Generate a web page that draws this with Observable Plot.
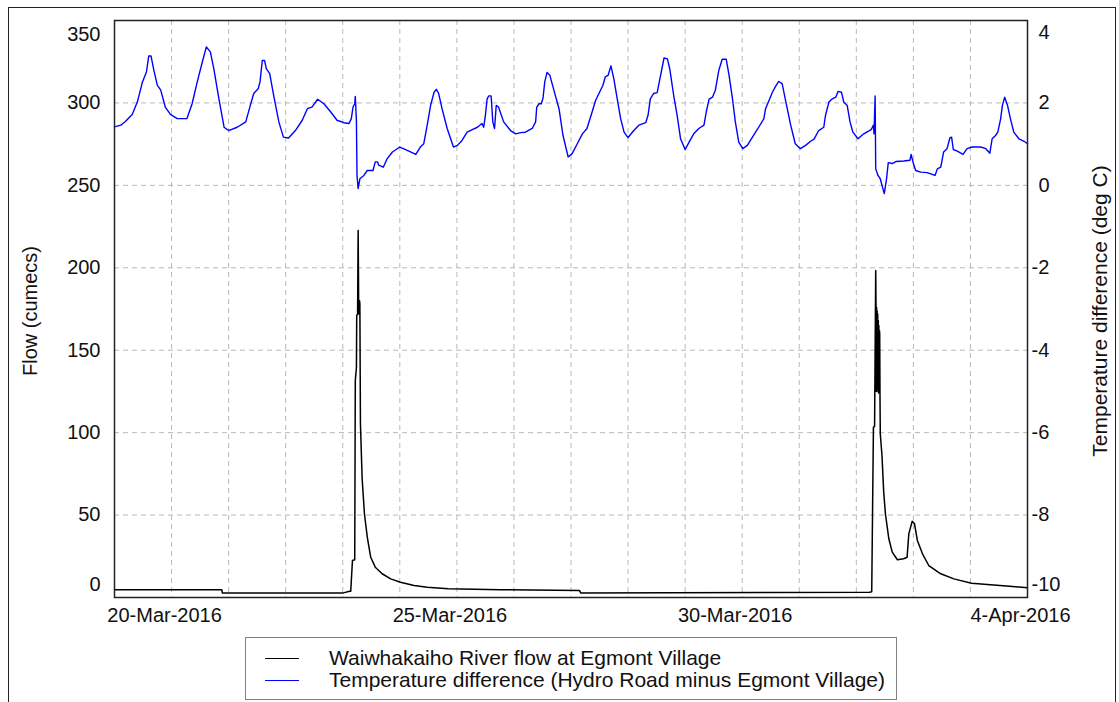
<!DOCTYPE html>
<html>
<head>
<meta charset="utf-8">
<script src="https://cdn.jsdelivr.net/npm/d3@7"></script>
<script src="https://cdn.jsdelivr.net/npm/@observablehq/plot@0.6"></script>
<style>
  html, body { margin: 0; padding: 0; background: #fff; }
  body { width: 1119px; height: 702px; position: relative; overflow: hidden;
         font-family: "Liberation Sans", Arial, sans-serif; color: #111; }
  #outer { position: absolute; left: 8px; top: 7px; width: 1108px; height: 740px;
           border: 1px solid #222; box-sizing: border-box; }
  #chart { position: absolute; left: 0; top: 0; }
  #legend { position: absolute; left: 245px; top: 637px; width: 652px; height: 63px;
            border: 1px solid #808080; box-sizing: border-box; background: #fff; }
  .row { position: absolute; left: 0; height: 22px; line-height: 22px; font-size: 21px; white-space: nowrap; }
  .swatch { position: absolute; left: 19px; top: 11px; width: 34px; height: 0; border-top-style: solid; border-top-width: 1.5px; }
  .lbl { position: absolute; left: 83px; top: 0; }
</style>
</head>
<body>
<div id="outer"></div>
<div id="chart"></div>
<div id="legend"></div>
<script>
// ---- Data (day numbers counted from 1-Mar-2016; 32 = 1-Apr) ----
const tempDay = [19.00,19.11,19.19,19.31,19.40,19.49,19.56,19.60,19.64,19.69,19.75,19.81,19.89,19.98,20.10,20.27,20.36,20.45,20.54,20.61,20.68,20.74,20.83,20.92,21.00,21.15,21.30,21.38,21.44,21.52,21.55,21.59,21.63,21.66,21.72,21.79,21.88,21.96,22.05,22.17,22.29,22.38,22.46,22.56,22.67,22.79,22.90,23.02,23.11,23.15,23.18,23.21,23.22,23.24,23.25,23.27,23.30,23.37,23.43,23.53,23.57,23.61,23.63,23.71,23.78,23.87,24.00,24.13,24.28,24.36,24.42,24.48,24.54,24.60,24.64,24.68,24.74,24.83,24.94,25.01,25.09,25.18,25.27,25.36,25.44,25.47,25.50,25.53,25.56,25.60,25.63,25.66,25.69,25.73,25.82,25.94,26.03,26.12,26.20,26.32,26.38,26.40,26.44,26.48,26.51,26.54,26.58,26.63,26.70,26.79,26.86,26.95,27.02,27.11,27.20,27.28,27.37,27.43,27.49,27.56,27.60,27.65,27.70,27.75,27.81,27.87,27.93,28.00,28.10,28.19,28.31,28.35,28.39,28.45,28.51,28.57,28.63,28.69,28.73,28.80,28.86,28.92,29.00,29.07,29.15,29.24,29.33,29.37,29.42,29.48,29.53,29.59,29.65,29.72,29.77,29.83,29.88,29.94,30.01,30.09,30.18,30.29,30.38,30.41,30.47,30.53,30.58,30.64,30.70,30.76,30.85,30.93,31.02,31.11,31.20,31.26,31.34,31.43,31.46,31.52,31.58,31.64,31.68,31.74,31.78,31.84,31.89,31.94,32.03,32.13,32.26,32.30,32.31,32.33,32.34,32.38,32.42,32.45,32.49,32.53,32.56,32.63,32.70,32.83,32.94,32.96,33.00,33.04,33.13,33.24,33.38,33.42,33.48,33.53,33.59,33.64,33.67,33.70,33.77,33.87,33.94,34.03,34.18,34.27,34.34,34.38,34.44,34.48,34.53,34.56,34.60,34.65,34.70,34.76,34.85,34.94,35.00];
const tempValue = [1.42,1.46,1.55,1.72,2.02,2.51,2.75,3.14,3.14,2.79,2.43,2.31,1.90,1.72,1.62,1.62,1.98,2.51,3.00,3.36,3.24,2.83,2.10,1.41,1.33,1.41,1.54,1.94,2.23,2.35,2.51,3.03,3.03,2.83,2.71,2.18,1.54,1.17,1.15,1.33,1.58,1.86,1.90,2.09,1.98,1.78,1.58,1.52,1.50,1.62,1.90,1.98,2.16,1.54,0.24,-0.08,0.16,0.24,0.36,0.36,0.57,0.57,0.49,0.44,0.65,0.81,0.93,0.85,0.75,0.93,1.01,1.46,1.94,2.26,2.33,2.23,1.86,1.38,0.93,0.97,1.09,1.29,1.35,1.41,1.50,1.41,1.70,2.10,2.17,2.17,1.54,1.38,1.94,1.90,1.54,1.33,1.25,1.28,1.29,1.38,1.54,1.90,1.98,1.98,2.12,2.51,2.74,2.67,2.31,1.86,1.21,0.69,0.77,1.01,1.25,1.38,1.78,2.06,2.23,2.43,2.63,2.67,2.90,2.59,2.10,1.62,1.29,1.16,1.33,1.46,1.52,1.70,2.10,2.23,2.25,2.67,3.09,3.07,2.83,2.18,1.70,1.13,0.87,1.05,1.25,1.38,1.46,1.78,2.09,2.14,2.31,2.79,3.06,3.06,2.67,2.10,1.54,1.05,0.89,0.97,1.17,1.41,1.62,1.86,2.06,2.26,2.39,2.52,2.47,2.06,1.46,1.01,0.89,0.97,1.07,1.12,1.33,1.41,1.70,2.02,2.10,2.14,2.28,2.26,2.02,1.94,1.54,1.29,1.13,1.25,1.35,1.46,1.25,2.17,0.40,0.24,0.16,0.00,-0.20,0.16,0.55,0.53,0.58,0.59,0.61,0.75,0.53,0.36,0.32,0.31,0.24,0.40,0.44,0.81,0.89,1.15,1.17,0.87,0.83,0.75,0.89,0.93,0.93,0.89,0.78,1.13,1.21,1.29,1.62,1.94,2.14,1.94,1.62,1.29,1.13,1.07,1.01];

const flowDay = [19.00,20.88,20.89,23.01,23.12,23.14,23.17,23.21,23.22,23.24,23.245,23.26,23.27,23.28,23.285,23.29,23.295,23.30,23.31,23.34,23.38,23.43,23.49,23.57,23.69,23.84,24.01,24.25,24.48,24.85,25.76,27.15,27.17,32.23,32.27,32.30,32.32,32.34,32.345,32.35,32.355,32.36,32.365,32.37,32.375,32.38,32.385,32.39,32.395,32.40,32.405,32.41,32.415,32.42,32.45,32.48,32.51,32.57,32.63,32.72,32.83,32.89,32.92,32.98,33.02,33.07,33.16,33.27,33.48,33.71,34.02,34.74,35.00];
const flowValue = [4.7,4.7,2.8,2.8,3.8,3.8,22.4,22.9,131.6,139.7,171,172,222.6,172,180,172,180,178,105.4,72,50.8,36.6,24.4,18.4,14.4,11.3,9.3,7.3,6.2,5.3,4.7,4.2,2.8,3.2,3.5,103.3,103.7,198.4,178,125,176,128,174,126,172,125,168,124,165,125,162,160,122.5,99.3,86.1,63.9,50.8,35.6,27.5,22.9,23.5,24.4,38.6,46.3,44.7,34.6,26.5,19.4,14.4,11.3,8.7,6.7,5.9];

const flowTicks = [0, 50, 100, 150, 200, 250, 300, 350];
const tempTicks = [-10, -8, -6, -4, -2, 0, 2, 4];
const dateTicks = ["2016-03-20", "2016-03-25", "2016-03-30", "2016-04-04"];
const monthNames = ["Jan","Feb","Mar","Apr","May","Jun","Jul","Aug","Sep","Oct","Nov","Dec"];
const seriesNames = ["Waiwhakaiho River flow at Egmont Village",
                     "Temperature difference (Hydro Road minus Egmont Village)"];
const seriesColors = ["#000000", "#0000ff"];
const axisTitles = ["Flow (cumecs)", "Temperature difference (deg C)"];
const xStart = "2016-03-19", xEnd = "2016-04-04";

// ---- Build ----
const base = Date.UTC(2016, 2, 1);
const toDate = d => new Date(base + (d - 1) * 864e5);
const tempToFlow = t => (t + 10) * 25; // right axis mapping: -10..4 -> 0..350

const flowData = flowDay.map((d, i) => ({date: toDate(d), v: flowValue[i]}));
const tempData = tempDay.map((d, i) => ({date: toDate(d), v: tempToFlow(tempValue[i])}));

const gridDays = d3.utcDay.range(new Date(xStart + "T00:00Z"), new Date(xEnd + "T00:00Z")).slice(1);
const fmtDate = d => `${d.getUTCDate()}-${monthNames[d.getUTCMonth()]}-${d.getUTCFullYear()}`;
const xTicks = dateTicks.map(s => new Date(s + "T00:00Z"));

const yMid = flowTicks.slice(1, -1);
const yTop = [flowTicks[flowTicks.length - 1]];
const yBot = [flowTicks[0]];
const tPos = tempTicks.filter(t => t >= 0 && t < 4).map(tempToFlow);
const tTop = tempTicks.filter(t => t === 4).map(tempToFlow);
const tNeg = tempTicks.filter(t => t < 0 && t > -10).map(tempToFlow);
const tBot = tempTicks.filter(t => t === -10).map(tempToFlow);
const tFmt = v => String(v / 25 - 10);

const axCommon = {tickSize: 0, label: null, fontSize: 20, fill: "#111"};
const gridStyle = {stroke: "#b8b8b8", strokeOpacity: 1, strokeDasharray: "5,4", strokeWidth: 1};

const chart = Plot.plot({
  width: 1119, height: 630,
  marginLeft: 114, marginRight: 92, marginTop: 20, marginBottom: 33,
  style: {fontFamily: '"Liberation Sans", Arial, sans-serif', fontSize: "20px", color: "#111", background: "transparent", overflow: "visible"},
  x: {type: "utc", domain: [new Date(xStart + "T00:00Z"), new Date(xEnd + "T00:00Z")], axis: null},
  y: {domain: [0, 350], axis: null},
  marks: [
    Plot.gridX(gridDays, gridStyle),
    Plot.gridY(yMid, gridStyle),
    Plot.line(flowData, {x: "date", y: "v", stroke: seriesColors[0], strokeWidth: 1.5}),
    Plot.line(tempData, {x: "date", y: "v", stroke: seriesColors[1], strokeWidth: 1.4}),
    Plot.frame({stroke: "#222", strokeWidth: 1.5}),
    Plot.axisX(xTicks, {...axCommon, anchor: "bottom", tickPadding: 10, dx: -7, tickFormat: fmtDate}),
    Plot.axisY(yMid, {...axCommon, anchor: "left", tickPadding: 14}),
    Plot.axisY(yTop, {...axCommon, anchor: "left", tickPadding: 14, dy: 14}),
    Plot.axisY(yBot, {...axCommon, anchor: "left", tickPadding: 14, dy: -13}),
    Plot.axisY(tPos, {...axCommon, anchor: "right", tickPadding: 11, tickFormat: tFmt}),
    Plot.axisY(tTop, {...axCommon, anchor: "right", tickPadding: 11, dy: 12, tickFormat: tFmt}),
    Plot.axisY(tNeg, {...axCommon, anchor: "right", tickPadding: 4, tickFormat: tFmt}),
    Plot.axisY(tBot, {...axCommon, anchor: "right", tickPadding: 4, dy: -13, tickFormat: tFmt}),
    Plot.text([axisTitles[0]], {text: d => d, frameAnchor: "left", textAnchor: "middle", dx: -84, dy: 2, rotate: -90, fontSize: 20, fill: "#111"}),
    Plot.text([axisTitles[1]], {text: d => d, frameAnchor: "right", textAnchor: "middle", dx: 73, dy: 2, rotate: -90, fontSize: 21, fill: "#111"})
  ]
});
document.getElementById("chart").appendChild(chart);

// Legend
const legend = document.getElementById("legend");
seriesNames.forEach((name, i) => {
  const row = document.createElement("div");
  row.className = "row";
  row.style.top = (9 + i * 22) + "px";
  const sw = document.createElement("div");
  sw.className = "swatch";
  sw.style.borderTopColor = seriesColors[i];
  const lb = document.createElement("span");
  lb.className = "lbl";
  lb.textContent = name;
  row.appendChild(sw);
  row.appendChild(lb);
  legend.appendChild(row);
});
</script>
</body>
</html>
